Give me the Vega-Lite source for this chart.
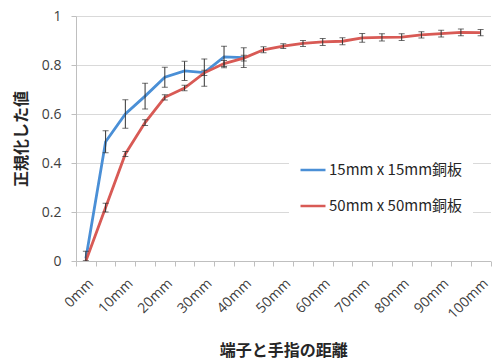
{
  "$schema": "https://vega.github.io/schema/vega-lite/v6.json",
  "autosize": {"type": "none"},
  "width": 414.5,
  "height": 245,
  "padding": {"left": 76, "top": 16, "right": 1.5, "bottom": 100},
  "background": "white",
  "config": {
    "view": {"stroke": null},
    "font": "Noto Sans CJK JP"
  },
  "data": {
    "values": [
      {"d": 0, "s": "15mm x 15mm銅板", "v": 0.01, "e": 0.03},
      {"d": 5, "s": "15mm x 15mm銅板", "v": 0.487, "e": 0.045},
      {"d": 10, "s": "15mm x 15mm銅板", "v": 0.6, "e": 0.058},
      {"d": 15, "s": "15mm x 15mm銅板", "v": 0.673, "e": 0.053},
      {"d": 20, "s": "15mm x 15mm銅板", "v": 0.75, "e": 0.041},
      {"d": 25, "s": "15mm x 15mm銅板", "v": 0.776, "e": 0.039},
      {"d": 30, "s": "15mm x 15mm銅板", "v": 0.769, "e": 0.056},
      {"d": 35, "s": "15mm x 15mm銅板", "v": 0.833, "e": 0.044},
      {"d": 40, "s": "15mm x 15mm銅板", "v": 0.83, "e": 0.04},
      {"d": 0, "s": "50mm x 50mm銅板", "v": 0.0, "e": 0.0},
      {"d": 5, "s": "50mm x 50mm銅板", "v": 0.218, "e": 0.018},
      {"d": 10, "s": "50mm x 50mm銅板", "v": 0.437, "e": 0.01},
      {"d": 15, "s": "50mm x 50mm銅板", "v": 0.565, "e": 0.012},
      {"d": 20, "s": "50mm x 50mm銅板", "v": 0.668, "e": 0.011},
      {"d": 25, "s": "50mm x 50mm銅板", "v": 0.706, "e": 0.011},
      {"d": 30, "s": "50mm x 50mm銅板", "v": 0.768, "e": 0.011},
      {"d": 35, "s": "50mm x 50mm銅板", "v": 0.806, "e": 0.012},
      {"d": 40, "s": "50mm x 50mm銅板", "v": 0.828, "e": 0.012},
      {"d": 45, "s": "50mm x 50mm銅板", "v": 0.862, "e": 0.012},
      {"d": 50, "s": "50mm x 50mm銅板", "v": 0.877, "e": 0.01},
      {"d": 55, "s": "50mm x 50mm銅板", "v": 0.888, "e": 0.012},
      {"d": 60, "s": "50mm x 50mm銅板", "v": 0.894, "e": 0.014},
      {"d": 65, "s": "50mm x 50mm銅板", "v": 0.897, "e": 0.014},
      {"d": 70, "s": "50mm x 50mm銅板", "v": 0.911, "e": 0.018},
      {"d": 75, "s": "50mm x 50mm銅板", "v": 0.913, "e": 0.015},
      {"d": 80, "s": "50mm x 50mm銅板", "v": 0.914, "e": 0.014},
      {"d": 85, "s": "50mm x 50mm銅板", "v": 0.923, "e": 0.013},
      {"d": 90, "s": "50mm x 50mm銅板", "v": 0.928, "e": 0.014},
      {"d": 95, "s": "50mm x 50mm銅板", "v": 0.933, "e": 0.014},
      {"d": 100, "s": "50mm x 50mm銅板", "v": 0.932, "e": 0.013}
    ]
  },
  "encoding": {
    "x": {
      "field": "d",
      "type": "ordinal",
      "bandPosition": 0.5,
      "scale": {"type": "band", "paddingInner": 0, "paddingOuter": 0},
      "axis": {
        "title": "端子と手指の距離",
        "titleFontSize": 16,
        "titleFontWeight": "bold",
        "titleColor": "#262626",
        "titlePadding": 21,
        "labelAngle": -45,
        "labelFontSize": 14,
        "labelColor": "#404040",
        "labelFont": "Open Sans",
        "labelExpr": "datum.value % 10 == 0 ? datum.value + 'mm' : ''",
        "labelPadding": 10,
        "tickBand": "extent",
        "tickSize": 5,
        "tickColor": "#bfbfbf",
        "domainColor": "#bfbfbf",
        "grid": false
      }
    },
    "y": {
      "field": "v",
      "type": "quantitative",
      "scale": {"domain": [0, 1]},
      "axis": {
        "title": "正規化した値",
        "titleFontSize": 16,
        "titleFontWeight": "bold",
        "titleColor": "#262626",
        "titlePadding": 12,
        "values": [0, 0.2, 0.4, 0.6, 0.8, 1],
        "format": "~g",
        "labelFontSize": 14,
        "labelColor": "#404040",
        "labelFont": "Open Sans",
        "labelPadding": 10,
        "tickSize": 5,
        "tickColor": "#bfbfbf",
        "domainColor": "#bfbfbf",
        "gridColor": "#d9d9d9",
        "grid": true
      }
    }
  },
  "layer": [
    {
      "mark": {"type": "line", "strokeWidth": 2.8, "clip": true},
      "encoding": {
        "color": {
          "field": "s",
          "type": "nominal",
          "scale": {
            "domain": ["15mm x 15mm銅板", "50mm x 50mm銅板"],
            "range": ["#4A8FD6", "#D85A55"]
          },
          "legend": {
            "title": null,
            "orient": "none",
            "legendX": 213,
            "legendY": 130,
            "fillColor": "white",
            "padding": 10,
            "rowPadding": 14,
            "labelFontSize": 15,
            "labelColor": "#262626",
            "labelOffset": 2,
            "symbolType": "stroke",
            "symbolSize": 625,
            "symbolStrokeWidth": 2.5
          }
        }
      }
    },
    {
      "mark": {
        "type": "errorbar",
        "ticks": {"size": 6, "thickness": 1, "color": "#333333"},
        "rule": {"strokeWidth": 1, "color": "#333333"},
        "clip": true
      },
      "encoding": {
        "y": {"field": "v", "type": "quantitative"},
        "yError": {"field": "e"},
        "detail": {"field": "s"}
      }
    }
  ]
}
